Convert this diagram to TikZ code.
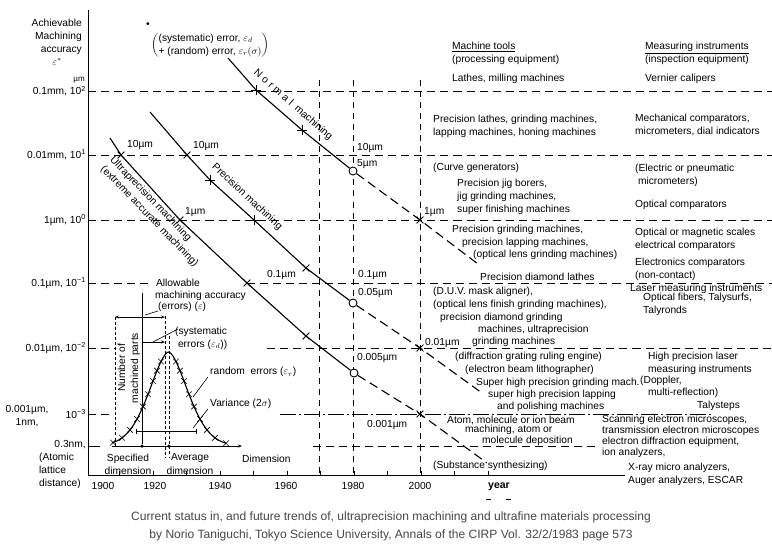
\documentclass[tikz,border=0pt]{standalone}
\usepackage{fontspec}
\setmainfont{Liberation Sans}
\usetikzlibrary{arrows.meta,shapes.misc}
\definecolor{capgray}{RGB}{70,70,70}
\tikzset{
  lbl/.style={font=\fontsize{10.2}{13}\selectfont,inner sep=0pt},
  lft/.style={lbl,anchor=west,align=left},
  rgt/.style={lbl,anchor=east,align=right},
  grid/.style={line width=.8pt,dash pattern=on 8pt off 5pt},
  vgrid/.style={line width=.8pt,dash pattern=on 6pt off 5pt},
  dashdot/.style={line width=.9pt,dash pattern=on 16pt off 3pt on 2pt off 3pt},
  trend/.style={line width=1.1pt},
  extra/.style={line width=1.1pt,dash pattern=on 9pt off 5pt},
  guide/.style={line width=.5pt,dash pattern=on 3pt off 2pt},
  xm/.style={cross out,draw,line width=.8pt,minimum size=6pt,inner sep=0pt},
  pm/.style={xm,rotate=45},
  ring/.style={circle,draw,fill=white,line width=.9pt,minimum size=8pt,inner sep=0pt},
  dot/.style={circle,fill,inner sep=0pt,minimum size=3.5pt},
}
\begin{document}
\begin{tikzpicture}[x=0.035cm,y=-0.035cm,>={Stealth[length=4pt]},
  declare function={bell(\t)=446-94*exp(-pow(abs(\t-168.5)/27.7+0.001,1.72));}]
\useasboundingbox(0,0) rectangle(772,552);
% axes and grid
\draw[line width=.7pt](88,10)--(88,475)--(625,475);
\foreach \yr in {1910,1920,...,2020}\draw[line width=.6pt]({86+(\yr-1900)*3.35},475)--++(0,-4);
\draw[grid](88,91)--(772,91);
\draw[grid](88,155)--(772,155);
\draw[grid](88,220)--(772,220);
\draw[grid](88,283)--(152,283) (247,283)--(772,283);
\draw[grid](88,348)--(115,348) (267,348)--(772,348);
\draw[grid](88,414)--(112,414);
\draw[dashdot](280,414)--(712,414);
\draw[line width=.8pt](88,446)--(100,446);
\draw[grid](313,446)--(600,446);
\foreach \x in {319,353,420}\draw[vgrid](\x,80)--(\x,475);
\draw[line width=.8pt](486,499)--(491,499) (506,499)--(511,499);
% axis labels
\node[rgt](ach) at(82,37){Achievable\\Machining\\accuracy};
\node[lbl](eps) at(57,62){$\varepsilon^{*}$};
\node[rgt,font=\fontsize{8}{9}\selectfont](um) at(85,80){µm};
\node[rgt](l2) at(86,91){0.1mm, 10\textsuperscript{2}};
\node[rgt](l1) at(86,155){0.01mm, 10\textsuperscript{1}};
\node[rgt](l0) at(86,220){1µm, 10\textsuperscript{0}};
\node[rgt](lm1) at(86,283){0.1µm, 10\textsuperscript{−1}};
\node[rgt](lm2) at(86,348){0.01µm, 10\textsuperscript{−2}};
\node[lbl,align=center](lnm) at(27,416){0.001µm,\\1nm,};
\node[rgt](lm3) at(86,414){10\textsuperscript{−3}};
\node[rgt](lat) at(86,445){0.3nm,};
\node[lft](atom) at(39,471){(Atomic\\lattice\\distance)};
\foreach \yr/\px in {1900/103,1920/155,1940/220,1960/286,1980/353,2000/420}
  \node[lbl](y\yr) at(\px,486){\yr};
\node[lbl,font=\fontsize{10.5}{13}\bfseries](year) at(499,487){year};
% legend
\node[lbl](sdot) at(148,25){•};
\node[lft](leg) at(151,45){$\left(\mbox{\begin{tabular}{@{}l@{}}(systematic) error, $\varepsilon_d$\\+ (random) error, $\varepsilon_r(\sigma)$\end{tabular}}\right)$};
% normal machining
\coordinate(n0) at(228,58);
\node[pm](n1) at(256,90){};
\node[pm](n2) at(302,130){};
\node[ring](n3) at(353,171){};
\node[xm](n4) at(420,220){};
\coordinate(n5) at(478,264);
\draw[trend](n0)--(n1.center)--(n2.center)--(n3);
\draw[extra](n3)--(n4.center)--(n5);
\node[lbl,rotate=-41](nl) at(293,105){{\addfontfeature{LetterSpace=30}Normal}\ \ machining};
% precision machining
\coordinate(p0) at(150,112);
\node[xm](p1) at(187,155){};
\node[pm](p2) at(210,180){};
\node[pm](p3) at(254,220){};
\node[xm](p4) at(306,268){};
\node[ring](p5) at(353,303){};
\node[xm](p6) at(420,348){};
\coordinate(p7) at(482,393);
\draw[trend](p0)--(p1.center)--(p2.center)--(p3.center)--(p4.center)--(p5);
\draw[extra](p5)--(p6.center)--(p7);
\node[lbl,rotate=-43](pl) at(247,197){Precision machining};
% ultraprecision machining
\coordinate(u0) at(110,138);
\node[xm](u1) at(121,155){};
\node[xm](u2) at(180,220){};
\node[xm](u3) at(247,283){};
\node[xm](u4) at(306,336){};
\node[ring](u5) at(354,373){};
\node[xm](u6) at(420,414){};
\coordinate(u7) at(487,463);
\draw[trend](u0)--(u1.center)--(u2.center)--(u3.center)--(u4.center)--(u5);
\draw[extra](u5)--(u6.center)--(u7);
\node[lbl,rotate=-46,align=left](ul) at(154,212){Ultraprecision machining\\(extreme accurate machining)};
% values
\node[lft](v1) at(127,145){10µm};
\node[lft](v2) at(193,146){10µm};
\node[lft](v3) at(185,212){1µm};
\node[lft](v4) at(267,275){0.1µm};
\node[lft](v5) at(357,148){10µm};
\node[lft](v6) at(357,164){5µm};
\node[lft](v7) at(358,275){0.1µm};
\node[lft](v8) at(358,293){0.05µm};
\node[lft](v9) at(357,358){0.005µm};
\node[lft](v10) at(424,212){1µm};
\node[lft](v11) at(425,343){0.01µm};
\node[lft](v12) at(367,425){0.001µm};
% inset: distribution of machined parts
\coordinate(b0) at(112,446);
\coordinate(b1) at(242,446);
\draw[line width=.9pt,->](b0)--(b1);
\draw[trend] plot[domain=112:226,samples=70](\x,{bell(\x)});
\foreach \x in {113,122,130,137,143,148,153,157,161,176,180,184,189,194,200,207,215,226}
  \node[xm,minimum size=5pt,line width=.6pt](g\x) at(\x,{bell(\x)}){};
\node[dot](sd) at(142,446){};
\node[dot](ad) at(169,446){};
\coordinate(al) at(142,293);
\draw[line width=.7pt](al)--(sd);
\draw[guide](115,317)--(115,446);
\draw[guide](165,316)--(165,458);
\draw[guide](169,336)--(169,458);
\coordinate(e0) at(115,317);
\coordinate(e1) at(165,317);
\draw[line width=.7pt,<->](e0)--(e1);
\coordinate(s0) at(142,342);
\coordinate(s1) at(165,342);
\draw[line width=.7pt,->](s0)--(s1);
\coordinate(v0) at(136,431);
\coordinate(v1) at(197,431);
\draw[line width=.7pt,{Bar[width=5pt]}-{Bar[width=5pt]}](v0)--(v1);
\node[lbl,fill=white,inner sep=1pt](allow) at(178,283){Allowable};
\node[lft](macc) at(155,296){machining accuracy};
\node[lft](errs) at(158,307){(errors) ($\varepsilon$)};
\node[lft](syst) at(175,338){(systematic\\\ errors ($\varepsilon_d$))};
\node[lft](rand) at(210,372){random\ \ errors ($\varepsilon_r$)};
\node[lft](vari) at(210,404){Variance (2$\sigma$)};
\node[lbl,rotate=90,align=center](nmp) at(129,368){Number of\\machined parts};
\node[lbl,align=center](spec) at(128,464){Specified\\dimension};
\node[lbl,align=center](avg) at(190,464){Average\\dimension};
\node[lft](dim) at(242,459){Dimension};
\draw[line width=.6pt](errs.south west)++(0,-1)--(145,315);
\draw[line width=.6pt](178,329)--(153,342);
\draw[line width=.6pt](rand.south west)++(-2,0)--(193,397);
\draw[line width=.6pt](vari.south west)++(-2,0)--(193,428);
% machine tools
\node[lft](mth) at(452,47){\underline{Machine tools}};
\node[lft](mtp) at(452,60){(processing equipment)};
\node[lft](m1) at(452,79){Lathes, milling machines};
\node[lft](m2) at(433,126.5){Precision lathes, grinding machines,\\lapping machines, honing machines};
\node[lft](m3) at(433,168){(Curve generators)};
\node[lft](m4) at(457,196.5){Precision jig borers,\\jig grinding machines,\\super finishing machines};
\node[lft](m5) at(452,230){Precision grinding machines,};
\node[lft](m6) at(462,243){precision lapping machines,};
\node[lft](m7) at(473,255){(optical lens grinding machines)};
\node[lft](m8) at(480,277){Precision diamond lathes};
\node[lft](m9) at(433,298.5){(D.U.V. mask aligner),\\(optical lens finish grinding machines),};
\node[lft](m10) at(440,318){precision diamond grinding};
\node[lft](m11) at(478,330){machines, ultraprecision};
\node[lft](m12) at(472,342){grinding machines};
\node[lft](m13) at(455,357){(diffraction grating ruling engine)};
\node[lft](m14) at(465,370){(electron beam lithographer)};
\node[lft](m15) at(476,383){Super high precision grinding mach.};
\node[lft](m16) at(488,395){super high precision lapping};
\node[lft](m17) at(497,407){and polishing machines};
\node[lft](m18) at(447,420){Atom, molecule or ion beam};
\node[lft](m19) at(465,430){machining, atom or};
\node[lft](m20) at(482,441){molecule deposition};
\node[lft](m21) at(433,466){(Substance synthesizing)};
% measuring instruments
\node[lft](mih) at(645,48){\underline{Measuring instruments}};
\node[lft](mip) at(645,60){(inspection equipment)};
\node[lft](i1) at(645,79){Vernier calipers};
\node[lft](i2) at(635,125){Mechanical comparators,\\micrometers, dial indicators};
\node[lft](i3) at(635,175){(Electric or pneumatic\\\ micrometers)};
\node[lft](i4) at(635,205){Optical comparators};
\node[lft](i5) at(635,239){Optical or magnetic scales\\electrical comparators};
\node[lft](i6) at(635,269){Electronics comparators\\(non-contact)};
\node[lft](i7) at(630,289){Laser measuring instruments};
\node[lft](i8) at(643,304){Optical fibers, Talysurfs,\\Talyronds};
\node[lft](i9) at(648,363){High precision laser\\measuring instruments};
\node[lft](i10) at(640,381){(Doppler,};
\node[lft](i11) at(648,393){multi-reflection)};
\node[lft](i12) at(697,406){Talysteps};
\node[lft,font=\fontsize{10.2}{11}\selectfont](i13) at(602,436.5){Scanning electron microscopes,\\transmission electron microscopes\\electron diffraction equipment,\\ion analyzers,};
\node[lft](i14) at(628,474){X-ray micro analyzers,\\Auger analyzers, ESCAR};
% caption
\node[font=\fontsize{12}{18}\selectfont,text=capgray,align=center,inner sep=0pt](cap) at(391,526){Current status in, and future trends of, ultraprecision machining and ultrafine materials processing\\by Norio Taniguchi, Tokyo Science University, Annals of the CIRP Vol. 32/2/1983 page 573};
\end{tikzpicture}
\end{document}
